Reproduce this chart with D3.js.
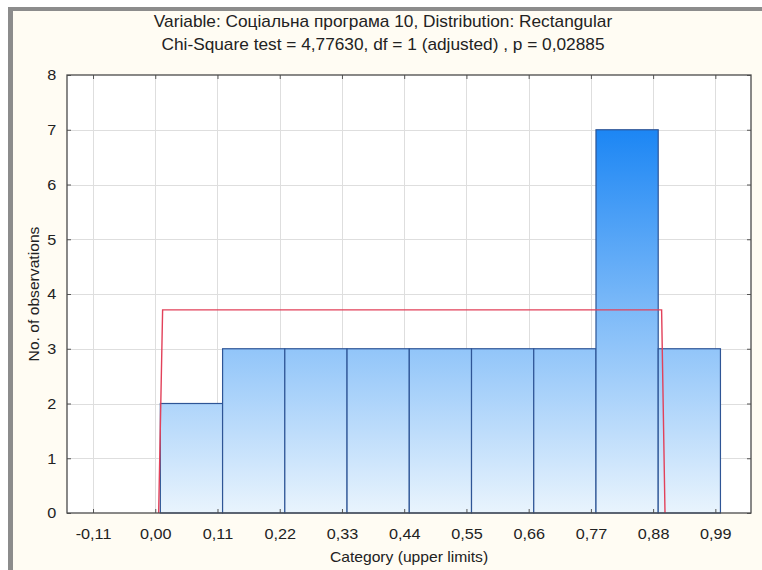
<!DOCTYPE html>
<html>
<head>
<meta charset="utf-8">
<script src="https://cdn.jsdelivr.net/npm/d3@7"></script>
<style>
  html, body { margin: 0; padding: 0; background: #ffffff; }
  svg { display: block; }
  text { font-family: "Liberation Sans", Arial, sans-serif; fill: #222; }
</style>
</head>
<body>
<svg id="chart" width="762" height="570"></svg>
<script>
// Histogram bins: lower edges, common width, observed counts
const binStarts = [0.009, 0.119, 0.229, 0.339, 0.449, 0.559, 0.669, 0.779, 0.889];
const binWidth = 0.11;
const counts = [2, 3, 3, 3, 3, 3, 3, 7, 3];

// Expected counts under the rectangular distribution (fitted curve)
const fitX = [0.006, 0.013, 0.895, 0.901];
const fitY = [0, 3.71, 3.71, 0];

// Axis ticks
const xTicks = [-0.11, 0.00, 0.11, 0.22, 0.33, 0.44, 0.55, 0.66, 0.77, 0.88, 0.99];
const yTicks = [0, 1, 2, 3, 4, 5, 6, 7, 8];

const titleLines = [
  "Variable: Соціальна програма 10, Distribution: Rectangular",
  "Chi-Square test = 4,77630, df = 1 (adjusted) , p = 0,02885"
];
const xTitle = "Category (upper limits)";
const yTitle = "No. of observations";

const svg = d3.select("#chart");
const W = 762, H = 570;
const plot = { left: 67, top: 75, right: 751, bottom: 513 };
const stretch = "scale(1.08,1)";   // slightly wide lettering

// Window panel with grey frame on top and left
svg.append("rect").attr("x", 8).attr("y", 8).attr("width", W - 8).attr("height", H - 8)
  .attr("fill", "#fffcf3");
svg.append("rect").attr("x", 8).attr("y", 7).attr("width", W - 8).attr("height", 4).attr("fill", "#8c8c8c");
svg.append("rect").attr("x", 8).attr("y", 7).attr("width", 5).attr("height", H - 7).attr("fill", "#8c8c8c");

const x = d3.scaleLinear().domain([-0.156, 1.053]).range([plot.left, plot.right]);
const y = d3.scaleLinear().domain([0, 8]).range([plot.bottom, plot.top]);

// Plot background
svg.append("rect").attr("x", plot.left).attr("y", plot.top)
  .attr("width", plot.right - plot.left).attr("height", plot.bottom - plot.top)
  .attr("fill", "#ffffff");

// Grid lines
const grid = svg.append("g").attr("stroke", "#dedede").attr("stroke-width", 1);
grid.selectAll("line.v").data(xTicks).join("line")
  .attr("x1", d => Math.round(x(d)) + 0.5).attr("x2", d => Math.round(x(d)) + 0.5)
  .attr("y1", plot.top).attr("y2", plot.bottom);
grid.selectAll("line.h").data(yTicks.slice(1, -1)).join("line")
  .attr("y1", d => Math.round(y(d)) + 0.5).attr("y2", d => Math.round(y(d)) + 0.5)
  .attr("x1", plot.left).attr("x2", plot.right);

// Vertical gradient for the bars
const defs = svg.append("defs");
const grad = defs.append("linearGradient").attr("id", "barFill")
  .attr("gradientUnits", "userSpaceOnUse")
  .attr("x1", 0).attr("x2", 0).attr("y1", y(7)).attr("y2", y(0));
grad.append("stop").attr("offset", "0%").attr("stop-color", "#1c86f4");
grad.append("stop").attr("offset", "100%").attr("stop-color", "#e9f4fd");

// Bars
svg.append("g").selectAll("rect").data(counts).join("rect")
  .attr("x", (d, i) => x(binStarts[i]))
  .attr("width", (d, i) => x(binStarts[i] + binWidth) - x(binStarts[i]))
  .attr("y", d => y(d))
  .attr("height", d => y(0) - y(d))
  .attr("fill", "url(#barFill)")
  .attr("stroke", "#2e5596")
  .attr("stroke-width", 1.2);

// Fitted rectangular distribution
const fitPts = fitX.map((v, i) => [v, fitY[i]]);
svg.append("path").datum(fitPts)
  .attr("d", d3.line().x(d => x(d[0])).y(d => y(d[1])))
  .attr("fill", "none").attr("stroke", "#e2415a").attr("stroke-width", 1.4);

// Axes
const fmt = d => d.toFixed(2).replace(".", ",").replace("-0,00", "0,00");
const xAxis = d3.axisBottom(x).tickValues(xTicks).tickFormat(fmt).tickSize(-4).tickPadding(15);
const yAxis = d3.axisLeft(y).tickValues(yTicks).tickFormat(d3.format("d")).tickSize(-4).tickPadding(10);

const gx = svg.append("g").attr("transform", `translate(0,${plot.bottom})`).call(xAxis);
const gy = svg.append("g").attr("transform", `translate(${plot.left},0)`).call(yAxis);
const gr = svg.append("g").attr("transform", `translate(${plot.right},0)`)
  .call(d3.axisRight(y).tickValues(yTicks).tickFormat("").tickSize(-4));
const gt = svg.append("g").attr("transform", `translate(0,${plot.top})`)
  .call(d3.axisTop(x).tickValues(xTicks).tickFormat("").tickSize(-4));

[gx, gy, gr, gt].forEach(g => {
  g.select(".domain").remove();
  g.selectAll(".tick line").attr("stroke", "#555").attr("stroke-width", 1);
});
[gx, gy].forEach(g => g.selectAll("text")
  .attr("font-size", 15).attr("fill", "#222")
  .attr("font-family", "'Liberation Sans', Arial, sans-serif")
  .attr("transform", stretch));

// Plot frame
svg.append("rect").attr("x", plot.left).attr("y", plot.top)
  .attr("width", plot.right - plot.left).attr("height", plot.bottom - plot.top)
  .attr("fill", "none").attr("stroke", "#4a4a4a").attr("stroke-width", 1.3);

// Titles
svg.selectAll("text.title").data(titleLines).join("text")
  .attr("class", "title")
  .attr("transform", (d, i) => `translate(383,${27 + i * 23}) ${stretch}`)
  .attr("text-anchor", "middle").attr("font-size", 16)
  .text(d => d);

svg.append("text")
  .attr("transform", `translate(${(plot.left + plot.right) / 2},562) ${stretch}`)
  .attr("text-anchor", "middle").attr("font-size", 14.5).text(xTitle);

svg.append("text")
  .attr("transform", `translate(39,${(plot.top + plot.bottom) / 2}) rotate(-90) ${stretch}`)
  .attr("text-anchor", "middle").attr("font-size", 14.5).text(yTitle);
</script>
</body>
</html>
